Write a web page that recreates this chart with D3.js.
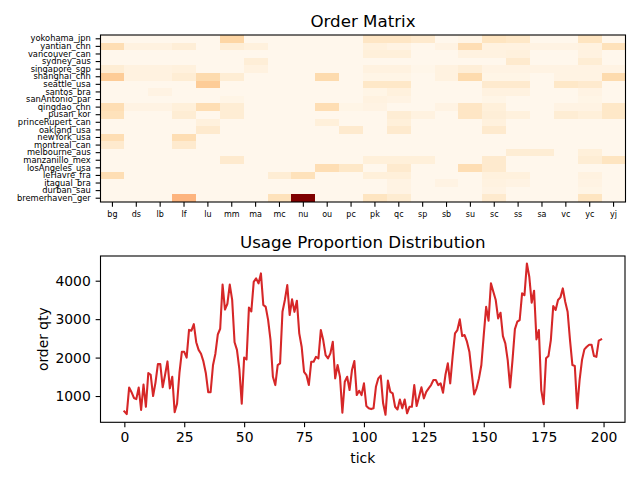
<!DOCTYPE html>
<html><head><meta charset="utf-8">
<script src="https://cdn.jsdelivr.net/npm/d3@7"></script>
<style>body{margin:0;background:#fff} text{font-family:"DejaVu Sans",sans-serif;fill:#000}</style>
</head><body><svg id="c" width="640" height="480" xmlns="http://www.w3.org/2000/svg"></svg>
<script>
const ports = ["yokohama_jpn","yantian_chn","vancouver_can","sydney_aus","singapore_sgp","shanghai_chn","seattle_usa","santos_bra","sanAntonio_par","qingdao_chn","pusan_kor","princeRupert_can","oakland_usa","newYork_usa","montreal_can","melbourne_aus","manzanillo_mex","losAngeles_usa","leHavre_fra","itagual_bra","durban_sau","bremerhaven_ger"];
const codes = ["bg","ds","lb","lf","lu","mm","ma","mc","nu","ou","pc","pk","qc","sp","sb","su","sc","ss","sa","vc","yc","yj"];
// rows follow ports, columns follow codes
const orderMatrix = [
 [2,2,2,2,2,25,2,2,2,2,2,15,15,12,2,4,16,14,2,2,16,2],
 [20,6,6,9,2,9,7,2,2,2,2,7,5,2,5,20,6,6,5,5,6,18],
 [2,2,2,2,2,2,2,2,2,2,2,8,8,2,2,6,6,7,2,2,6,2],
 [2,2,2,2,2,2,9,2,2,2,2,2,2,2,2,2,2,12,2,2,10,2],
 [10,6,6,7,2,2,6,2,2,2,2,6,6,3,6,9,5,5,5,5,5,5],
 [30,6,6,10,22,10,2,2,2,22,2,4,4,2,6,22,4,4,2,5,5,22],
 [2,2,2,2,30,2,2,2,2,2,2,14,14,2,2,2,12,12,2,14,12,2],
 [2,2,5,2,2,2,2,2,2,2,2,4,7,2,2,2,6,6,2,2,5,2],
 [2,2,2,2,2,4,2,2,2,2,2,6,5,2,2,2,4,2,2,2,4,2],
 [20,5,5,8,20,10,2,2,2,20,4,5,2,2,5,15,8,2,2,5,5,14],
 [18,2,2,10,2,10,2,2,2,2,2,2,10,6,2,15,9,7,2,10,8,14],
 [2,2,2,2,7,2,2,2,2,8,2,2,8,2,2,2,7,2,2,2,2,2],
 [2,2,2,2,12,2,2,2,2,2,12,2,12,2,2,2,12,2,2,2,2,2],
 [20,2,2,20,2,2,2,2,2,2,2,2,2,2,2,2,2,2,2,2,2,2],
 [12,2,2,12,2,2,2,2,2,2,2,2,2,2,2,2,2,2,2,2,2,2],
 [2,2,2,2,2,2,2,2,2,2,2,2,2,2,2,2,2,10,10,2,8,2],
 [2,2,2,2,2,12,2,2,2,2,2,8,8,8,2,2,12,2,2,2,10,16],
 [2,2,2,2,2,2,2,2,2,20,14,2,12,2,2,20,12,2,2,2,2,2],
 [20,2,2,2,2,2,2,10,18,2,2,8,8,2,2,2,7,7,2,2,6,2],
 [2,2,2,2,2,2,2,2,2,2,2,2,5,2,5,2,6,5,2,2,5,2],
 [2,2,2,2,2,2,2,2,2,2,2,2,5,2,2,2,5,2,2,2,4,2],
 [2,2,2,40,2,2,2,18,100,2,2,16,11,2,2,2,12,2,2,2,16,2]
];
const orderQty = [600,530,1220,1100,950,920,1220,640,1300,720,1600,1550,1000,1350,1830,1830,1230,1550,1900,1200,
1500,580,800,1600,2150,2150,2000,2720,2700,2870,2400,2200,2100,1900,1600,1100,1100,1800,2100,2600,
2750,3900,3250,3400,3900,3500,2400,2200,1700,800,2000,1950,3300,3200,3970,4060,3930,4190,3370,3320,
2980,2460,1500,1285,1806,1850,3193,3500,3887,3107,3514,3190,3480,2630,2283,1630,1545,1285,1890,1890,
2020,1980,2716,2456,2066,1980,2110,2413,1459,1806,1500,565,1372,1500,1155,1676,1910,1025,1138,1025,
1330,740,680,660,680,1240,1460,1530,810,513,1400,1110,1070,720,650,910,680,910,550,720,
720,1285,740,980,1225,940,1110,1200,1285,1415,1415,1285,1330,1085,1545,1850,1330,2020,2630,2716,
2994,2560,2586,2413,2153,1590,1043,1200,1459,1806,2586,3320,2960,3930,3714,3497,3020,3167,2560,2370,
1936,1225,1936,2742,2933,2977,3670,3627,4446,4104,3428,3740,2474,2716,1155,790,1980,2040,2456,3340,
3237,3497,3566,3800,3454,3193,2456,1806,1780,680,1415,1936,2214,2283,2335,2335,2040,2020,2440,2474];
const xTicks = [0,25,50,75,100,125,150,175,200];
const yTicks = [1000,2000,3000,4000];

const svg = d3.select("#c");
const TL = 4.86, TP = 4.86;

// ---------- Heatmap ----------
const H = {l:100.5, t:35, w:525, h:167};
const xb = d3.scaleBand().domain(codes).range([H.l, H.l+H.w]);
const yb = d3.scaleBand().domain(ports).range([H.t, H.t+H.h]);
const flat = orderMatrix.flat();
const color = d3.scaleSequential(d3.interpolateOrRd).domain([d3.min(flat), d3.max(flat)]);
const cells = [];
orderMatrix.forEach((row,r)=>row.forEach((v,c)=>cells.push({p:ports[r],c:codes[c],v})));
svg.append("g").selectAll("rect").data(cells).join("rect")
  .attr("x",d=>xb(d.c)).attr("y",d=>yb(d.p))
  .attr("width",xb.bandwidth()+0.3).attr("height",yb.bandwidth()+0.3)
  .attr("fill",d=>color(d.v)).attr("shape-rendering","crispEdges");
svg.append("rect").attr("x",H.l).attr("y",H.t).attr("width",H.w).attr("height",H.h)
  .attr("fill","none").attr("stroke","#000").attr("stroke-width",1.1);
const hx = svg.append("g").attr("transform",`translate(0,${H.t+H.h})`)
  .call(d3.axisBottom(xb).tickSize(TL).tickPadding(4));
hx.select(".domain").remove();
hx.selectAll("text").attr("font-size","8px").attr("font-family","DejaVu Sans");
hx.selectAll("line").attr("stroke-width",1.1);
const hy = svg.append("g").attr("transform",`translate(${H.l},0)`)
  .call(d3.axisLeft(yb).tickSize(TL).tickPadding(TP));
hy.select(".domain").remove();
hy.selectAll("text").attr("font-size","8.33px").attr("font-family","DejaVu Sans");
hy.selectAll("line").attr("stroke-width",1.1);
svg.append("text").attr("x",H.l+H.w/2).attr("y",H.t-8.3).attr("text-anchor","middle")
  .attr("font-size","16.67px").text("Order Matrix");

// ---------- Line ----------
const P = {l:100.5, t:256, w:524.5, h:166.3};
const idx = orderQty.map((v,i)=>i);
const xe = d3.extent(idx), xp = (xe[1]-xe[0])*0.05;
const ye = d3.extent(orderQty), yp = (ye[1]-ye[0])*0.05;
const xs = d3.scaleLinear().domain([xe[0]-xp, xe[1]+xp]).range([P.l, P.l+P.w]);
const ys = d3.scaleLinear().domain([ye[0]-yp, ye[1]+yp]).range([P.t+P.h, P.t]);
svg.append("defs").append("clipPath").attr("id","clp").append("rect")
  .attr("x",P.l).attr("y",P.t).attr("width",P.w).attr("height",P.h);
svg.append("path").datum(orderQty).attr("clip-path","url(#clp)")
  .attr("d", d3.line().x((d,i)=>xs(i)).y(d=>ys(d)))
  .attr("fill","none").attr("stroke","#d62728").attr("stroke-width",2.08)
  .attr("stroke-linejoin","round").attr("stroke-linecap","square");
svg.append("rect").attr("x",P.l).attr("y",P.t).attr("width",P.w).attr("height",P.h)
  .attr("fill","none").attr("stroke","#000").attr("stroke-width",1.1);
const gx = svg.append("g").attr("transform",`translate(0,${P.t+P.h})`)
  .call(d3.axisBottom(xs).tickValues(xTicks).tickSize(TL).tickPadding(TP).tickFormat(d3.format("d")));
gx.select(".domain").remove();
gx.selectAll("text").attr("font-size","13.9px").attr("font-family","DejaVu Sans");
gx.selectAll("line").attr("stroke-width",1.1);
const gy = svg.append("g").attr("transform",`translate(${P.l},0)`)
  .call(d3.axisLeft(ys).tickValues(yTicks).tickSize(TL).tickPadding(TP).tickFormat(d3.format("d")));
gy.select(".domain").remove();
gy.selectAll("text").attr("font-size","13.9px").attr("font-family","DejaVu Sans");
gy.selectAll("line").attr("stroke-width",1.1);
svg.append("text").attr("x",P.l+P.w/2).attr("y",P.t-8.3).attr("text-anchor","middle")
  .attr("font-size","16.67px").text("Usage Proportion Distribution");
svg.append("text").attr("x",P.l+P.w/2).attr("y",463).attr("text-anchor","middle")
  .attr("font-size","13.9px").text("tick");
svg.append("text").attr("transform",`translate(48,${P.t+P.h/2}) rotate(-90)`).attr("text-anchor","middle")
  .attr("font-size","13.9px").text("order qty");
</script></body></html>
